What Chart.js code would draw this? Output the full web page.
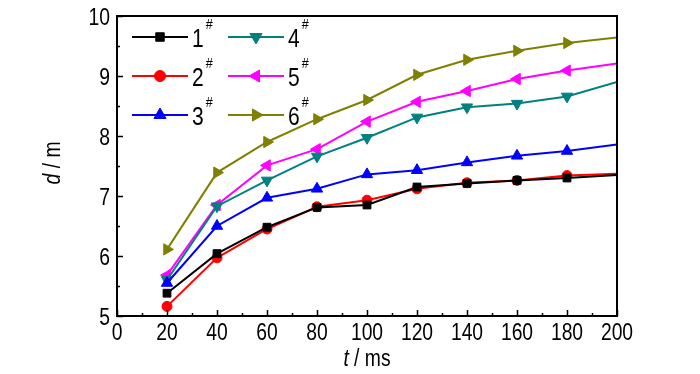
<!DOCTYPE html>
<html>
<head>
<meta charset="utf-8">
<script src="https://cdn.jsdelivr.net/npm/chart.js@4/dist/chart.umd.min.js"></script>
<style>
  html, body { margin: 0; padding: 0; background: #fff; }
  #wrap { width: 700px; height: 374px; }
</style>
</head>
<body>
<div id="wrap"><canvas id="chart" width="700" height="374"></canvas></div>
<script>
// time (ms) and distance (m) for the six cases
const times = [20, 40, 60, 80, 100, 120, 140, 160, 180, 200];
const d1 = [5.38, 6.04, 6.48, 6.81, 6.85, 7.15, 7.21, 7.26, 7.30, 7.35];
const d2 = [5.16, 5.97, 6.45, 6.82, 6.93, 7.12, 7.22, 7.26, 7.34, 7.37];
const d3 = [5.55, 6.50, 6.97, 7.12, 7.36, 7.43, 7.56, 7.67, 7.75, 7.86];
const d4 = [5.60, 6.83, 7.26, 7.66, 7.97, 8.31, 8.48, 8.54, 8.66, 8.90];
const d5 = [5.68, 6.85, 7.51, 7.78, 8.24, 8.57, 8.75, 8.95, 9.09, 9.21];
const d6 = [6.11, 7.39, 7.90, 8.28, 8.60, 9.02, 9.27, 9.42, 9.55, 9.64];
const labels = ['1', '2', '3', '4', '5', '6'];
const xTicks = [0, 20, 40, 60, 80, 100, 120, 140, 160, 180, 200];
const yTicks = [5, 6, 7, 8, 9, 10];

const FONT = '"Liberation Sans", Arial, sans-serif';
const SQUEEZE = 0.84;   // the original uses a narrow face

const styles = [
    { color: '#000000', pointStyle: 'rect', radius: 5.5, rotation: 0 },
    { color: '#ff0000', pointStyle: 'circle', radius: 5, rotation: 0 },
    { color: '#0000ff', pointStyle: 'triangle', radius: 6.5, rotation: 0 },
    { color: '#008080', pointStyle: 'triangle', radius: 6.5, rotation: 180 },
    { color: '#ff00ff', pointStyle: 'triangle', radius: 6.5, rotation: 270 },
    { color: '#808000', pointStyle: 'triangle', radius: 6.5, rotation: 90 }
];

function makeSet(values, i) {
    const s = styles[i];
    return {
        label: labels[i],
        data: times.map((t, k) => ({ x: t, y: values[k] })),
        borderColor: s.color,
        backgroundColor: s.color,
        borderWidth: 2,
        pointStyle: s.pointStyle,
        pointRotation: s.rotation,
        // no marker on the right-hand edge
        pointRadius: times.map(t => t === 200 ? 0 : s.radius),
        pointBorderWidth: 1,
        tension: 0
    };
}

// draws a run of [text, italic] pieces squeezed horizontally, anchored by align
function narrowText(ctx, parts, x, y, size, align) {
    let total = 0;
    parts.forEach(p => {
        ctx.font = (p[1] ? 'italic ' : '') + size + 'px ' + FONT;
        total += ctx.measureText(p[0]).width;
    });
    let start = align === 'right' ? -total : align === 'center' ? -total / 2 : 0;
    ctx.save();
    ctx.translate(x, y);
    ctx.scale(SQUEEZE, 1);
    ctx.textAlign = 'left';
    ctx.textBaseline = 'alphabetic';
    parts.forEach(p => {
        ctx.font = (p[1] ? 'italic ' : '') + size + 'px ' + FONT;
        ctx.fillText(p[0], start, 0);
        start += ctx.measureText(p[0]).width;
    });
    ctx.restore();
    return total * SQUEEZE;
}

const framePlugin = {
    id: 'frame',
    afterDraw(chart) {
        const { ctx, chartArea: a, scales: { x, y } } = chart;
        ctx.save();
        ctx.strokeStyle = '#000';
        ctx.lineWidth = 2;
        ctx.strokeRect(a.left, a.top, a.right - a.left, a.bottom - a.top);

        // inward ticks, major and minor
        ctx.lineWidth = 1.5;
        ctx.beginPath();
        for (let v = xTicks[0]; v <= xTicks[xTicks.length - 1]; v += 10) {
            const px = Math.round(x.getPixelForValue(v)) + 0.5;
            const len = v % 20 === 0 ? 6 : 3;
            ctx.moveTo(px, a.bottom);
            ctx.lineTo(px, a.bottom - len);
        }
        for (let v = yTicks[0]; v <= yTicks[yTicks.length - 1]; v += 0.5) {
            const py = Math.round(y.getPixelForValue(v)) + 0.5;
            const len = v % 1 === 0 ? 6 : 3;
            ctx.moveTo(a.left, py);
            ctx.lineTo(a.left + len, py);
        }
        ctx.stroke();

        ctx.fillStyle = '#000';
        xTicks.forEach(v => {
            narrowText(ctx, [[String(v), false]], x.getPixelForValue(v), a.bottom + 24, 23, 'center');
        });
        yTicks.forEach(v => {
            narrowText(ctx, [[String(v), false]], a.left - 7, y.getPixelForValue(v) + 8.5, 23, 'right');
        });

        // axis titles with italic symbols
        narrowText(ctx, [['t', true], [' / ms', false]], (a.left + a.right) / 2, 366, 23, 'center');
        ctx.translate(60, 163);
        ctx.rotate(-Math.PI / 2);
        narrowText(ctx, [['d', true], [' / m', false]], 0, 0, 23, 'center');
        ctx.restore();
    }
};

const legendPlugin = {
    id: 'boxLegend',
    afterDatasetsDraw(chart) {
        const ctx = chart.ctx;
        const rows = [37, 76, 115];
        const cols = [132, 228];
        ctx.save();
        chart.data.datasets.forEach((ds, i) => {
            const s = styles[i];
            const col = cols[Math.floor(i / 3)];
            const row = rows[i % 3];
            ctx.strokeStyle = s.color;
            ctx.fillStyle = s.color;
            ctx.lineWidth = 2;
            ctx.beginPath();
            ctx.moveTo(col, row);
            ctx.lineTo(col + 56, row);
            ctx.stroke();
            ctx.lineWidth = 1;
            Chart.helpers.drawPoint(ctx, {
                pointStyle: s.pointStyle, radius: s.radius + 0.5,
                rotation: s.rotation, borderWidth: 1
            }, col + 28, row);
            ctx.fillStyle = '#000';
            const w = narrowText(ctx, [[ds.label, false]], col + 60, row + 9.5, 25, 'left');
            narrowText(ctx, [['#', false]], col + 62 + w, row - 8, 15, 'left');
        });
        ctx.restore();
    }
};

new Chart(document.getElementById('chart'), {
    type: 'line',
    data: {
        datasets: [d1, d2, d3, d4, d5, d6].map(makeSet)
    },
    options: {
        responsive: false,
        animation: false,
        devicePixelRatio: 1,
        layout: { padding: { left: 0, top: 16, right: 83, bottom: 0 } },
        plugins: { legend: { display: false }, tooltip: { enabled: false } },
        scales: {
            x: {
                type: 'linear',
                min: 0,
                max: 200,
                afterBuildTicks: scale => { scale.ticks = xTicks.map(v => ({ value: v })); },
                afterFit: scale => { scale.height = 58; },
                grid: { display: false, drawTicks: false },
                border: { display: false },
                ticks: { display: false }
            },
            y: {
                min: 5,
                max: 10,
                afterBuildTicks: scale => { scale.ticks = yTicks.map(v => ({ value: v })); },
                afterFit: scale => { scale.width = 117; },
                grid: { display: false, drawTicks: false },
                border: { display: false },
                ticks: { display: false }
            }
        }
    },
    plugins: [framePlugin, legendPlugin]
});
</script>
</body>
</html>
